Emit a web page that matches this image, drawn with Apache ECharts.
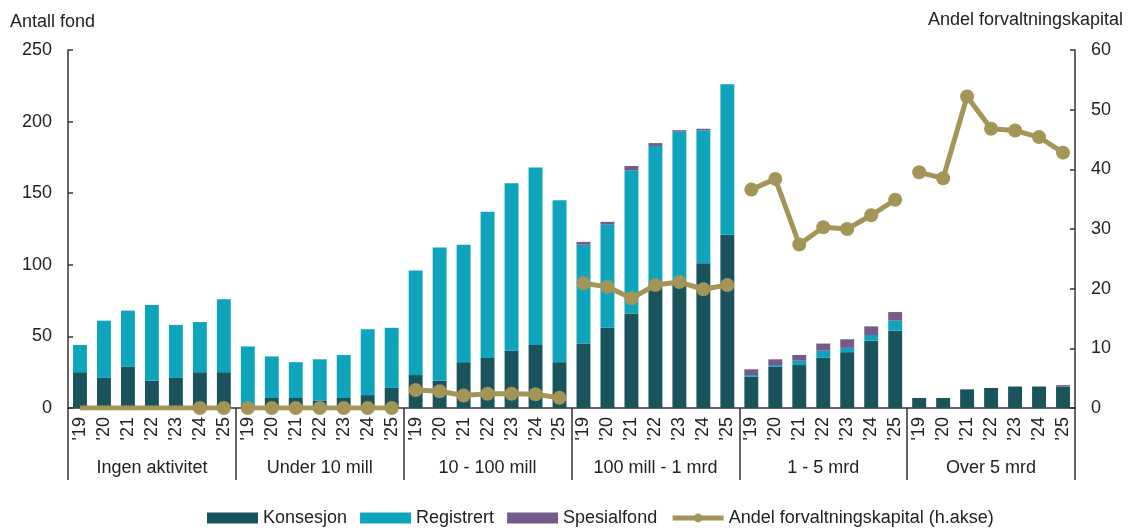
<!DOCTYPE html>
<html>
<head>
<meta charset="utf-8">
<script src="https://cdn.jsdelivr.net/npm/echarts@6/dist/echarts.min.js"></script>
<style>
  html, body { margin: 0; padding: 0; background: #fff; }
  #chart { width: 1129px; height: 528px; }
</style>
</head>
<body>
<div id="chart"></div>
<script>
// ---- Data ----
const groups = ['Ingen aktivitet', 'Under 10 mill', '10 - 100 mill', '100 mill - 1 mrd', '1 - 5 mrd', 'Over 5 mrd'];
const years = ["'19", "'20", "'21", "'22", "'23", "'24", "'25"];

// Antall fond per group (7 years each)
const konsesjon = [
  25, 21, 29, 19, 21, 25, 25,
  2, 7, 7, 5, 7, 9, 14,
  23, 19, 32, 35, 40, 44, 32,
  45, 56, 66, 84, 87, 101, 121,
  22, 29, 30, 35, 39, 47, 54,
  7, 7, 13, 14, 15, 15, 15
];
const registrert = [
  19, 40, 39, 53, 37, 35, 51,
  41, 29, 25, 29, 30, 46, 42,
  73, 93, 82, 102, 117, 124, 113,
  69, 72, 100, 99, 106, 93, 105,
  1, 1, 3, 5, 3, 4, 7,
  0, 0, 0, 0, 0, 0, 0
];
const spesialfond = [
  0, 0, 0, 0, 0, 0, 0,
  0, 0, 0, 0, 0, 0, 0,
  0, 0, 0, 0, 0, 0, 0,
  2, 2, 3, 2, 1, 1, 0,
  4, 4, 4, 5, 6, 6, 6,
  0, 0, 0, 0, 0, 0, 1
];
// Andel forvaltningskapital (h.akse), prosent
const andel = [
  0, 0, 0, 0, 0, 0, 0,
  0, 0, 0, 0, 0, 0, 0,
  3.0, 2.8, 2.1, 2.4, 2.4, 2.3, 1.7,
  20.9, 20.3, 18.4, 20.6, 21.1, 19.9, 20.6,
  36.6, 38.4, 27.4, 30.3, 30.0, 32.3, 34.9,
  39.5, 38.5, 52.2, 46.8, 46.5, 45.4, 42.8
];
const leftTicks = { min: 0, max: 250, interval: 50 };
const rightTicks = { min: 0, max: 60, interval: 10 };

// ---- Styles ----
const C_KONS = '#19535C';
const C_REG = '#0EA5BC';
const C_SPES = '#765A89';
const C_LINE = '#A39558';
const TXT = '#222';
const AX = '#333';
const FS = 18;
const FONT = 'Liberation Sans, Arial, sans-serif';
// points of the line that are drawn without a marker (first group, '19-'23)
const noMarker = [0, 1, 2, 3, 4];

const categories = [];
groups.forEach(() => years.forEach(y => categories.push(y)));
const nYears = years.length;
const lineName = 'Andel forvaltningskapital (h.akse)';

const lineSeries = groups.map((g, gi) => {
  const data = andel.map((v, i) => {
    if (Math.floor(i / nYears) !== gi) return null;
    if (noMarker.includes(i)) return { value: v, symbol: 'none' };
    return v;
  });
  return {
    name: lineName,
    type: 'line',
    yAxisIndex: 1,
    xAxisIndex: 0,
    data: data,
    connectNulls: false,
    symbol: 'circle',
    symbolSize: 14,
    itemStyle: { color: C_LINE },
    lineStyle: { color: C_LINE, width: 5 },
    z: 5,
    animation: false
  };
});

const barBase = { type: 'bar', stack: 'antall', barWidth: '58%', xAxisIndex: 0, yAxisIndex: 0, animation: false };

const chart = echarts.init(document.getElementById('chart'), null, { renderer: 'canvas' });
chart.setOption({
  animation: false,
  textStyle: { fontFamily: FONT, color: TXT },
  grid: { left: 68, right: 54, top: 50, bottom: 120, containLabel: false },
  legend: {
    left: 202, top: 504,
    itemWidth: 51, itemHeight: 11, itemGap: 13,
    textStyle: { fontSize: FS, color: TXT, fontFamily: FONT },
    data: [
      { name: 'Konsesjon', icon: 'rect' },
      { name: 'Registrert', icon: 'rect' },
      { name: 'Spesialfond', icon: 'rect' },
      { name: lineName, itemStyle: { color: C_LINE }, lineStyle: { color: C_LINE, width: 5 } }
    ]
  },
  xAxis: [
    {
      type: 'category', position: 'bottom', data: categories,
      axisLine: { show: true, lineStyle: { color: AX, width: 1.5 } },
      axisTick: { show: false },
      axisLabel: { interval: 0, rotate: 90, margin: 9, fontSize: FS, color: TXT, fontFamily: FONT }
    },
    {
      type: 'category', position: 'bottom', data: groups,
      axisLine: { show: false },
      axisTick: { show: true, length: 72, interval: 0, lineStyle: { color: AX, width: 1.5 } },
      axisLabel: { interval: 0, margin: 51, fontSize: FS, color: TXT, fontFamily: FONT }
    }
  ],
  yAxis: [
    {
      type: 'value', position: 'left', min: leftTicks.min, max: leftTicks.max, interval: leftTicks.interval,
      splitLine: { show: false },
      axisLine: { show: true, lineStyle: { color: AX, width: 1.5 } },
      axisTick: { show: true, inside: true, length: 5, lineStyle: { color: AX, width: 1.5 } },
      axisLabel: { margin: 16, fontSize: FS, color: TXT, fontFamily: FONT }
    },
    {
      type: 'value', position: 'right', min: rightTicks.min, max: rightTicks.max, interval: rightTicks.interval,
      splitLine: { show: false },
      axisLine: { show: true, lineStyle: { color: AX, width: 1.5 } },
      axisTick: { show: true, inside: true, length: 5, lineStyle: { color: AX, width: 1.5 } },
      axisLabel: { margin: 16, fontSize: FS, color: TXT, fontFamily: FONT }
    }
  ],
  graphic: [
    { type: 'text', left: 10, top: 13, style: { text: 'Antall fond', fontSize: FS, fill: TXT, fontFamily: FONT } },
    { type: 'text', right: 6, top: 11, style: { text: 'Andel forvaltningskapital', fontSize: FS, fill: TXT, fontFamily: FONT } }
  ],
  series: [
    Object.assign({}, barBase, { name: 'Konsesjon', data: konsesjon, itemStyle: { color: C_KONS } }),
    Object.assign({}, barBase, { name: 'Registrert', data: registrert, itemStyle: { color: C_REG } }),
    Object.assign({}, barBase, { name: 'Spesialfond', data: spesialfond, itemStyle: { color: C_SPES } })
  ].concat(lineSeries)
});
</script>
</body>
</html>
